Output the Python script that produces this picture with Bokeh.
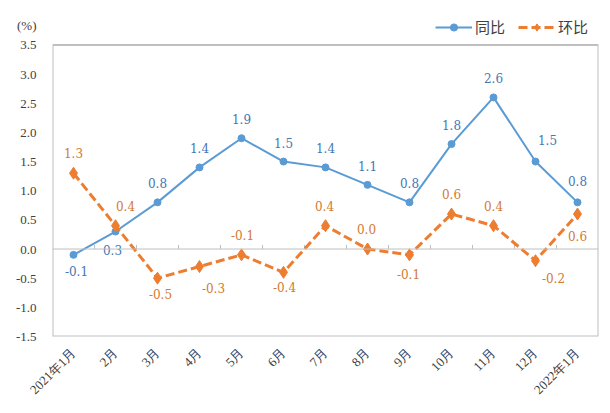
from bokeh.plotting import figure
from bokeh.models import (Range1d, FixedTicker, Span, Legend, LegendItem,
                          ColumnDataSource, CustomJSTickFormatter)
from bokeh.core.properties import value
from bokeh.embed import file_html
from bokeh.resources import INLINE
import math

# ---- data ----
months = ["2021年1月", "2月", "3月", "4月", "5月", "6月", "7月", "8月", "9月",
          "10月", "11月", "12月", "2022年1月"]
yoy = [-0.1, 0.3, 0.8, 1.4, 1.9, 1.5, 1.4, 1.1, 0.8, 1.8, 2.6, 1.5, 0.8]
mom = [1.3, 0.4, -0.5, -0.3, -0.1, -0.4, 0.4, 0.0, -0.1, 0.6, 0.4, -0.2, 0.6]
y_ticks = [-1.5, -1.0, -0.5, 0.0, 0.5, 1.0, 1.5, 2.0, 2.5, 3.0, 3.5]
unit_text = "(%)"

# ---- layout / styling ----
Y_MIN, Y_MAX = -1.5, 3.5
Y_TOP = 4.09          # frame extends above the plot box to host legend & unit
UNIT_POS = 3.84       # height of the "(%)" unit label
yoy_dx = [3, -3, 0, 0, 0, 0, 0, 0, 0, 0, 0, 12, 0]
yoy_dy = [16, 18, -19, -19, -19, -19, -19, -19, -19, -19, -19, -22, -21]
mom_dx = [0, 10, 3, 14, 1, 1, -1, -1, -1, 0, 0, 18, 0]
mom_dy = [-20, -20, 16, 21, -20, 15, -20, -20, 19, -20, -20, 17, 22]

BLUE = "#5B9BD5"
ORANGE = "#ED7D31"
BLUE_T = "#4677B0"
ORANGE_T = "#D27A32"
GRAY = "#BFBFBF"
SERIF = "Liberation Serif"

n = len(months)
xs = [i + 0.5 for i in range(n)]          # category centres
xb = [i + 1.0 for i in range(n - 1)]      # category boundaries

src = ColumnDataSource(dict(
    x=xs, yoy=yoy, mom=mom,
    yoy_t=["%.1f" % v for v in yoy], mom_t=["%.1f" % v for v in mom],
    yoy_dx=yoy_dx, yoy_dy=yoy_dy, mom_dx=mom_dx, mom_dy=mom_dy,
))
bsrc = ColumnDataSource(dict(x=xb, y0=[0.0] * len(xb), y1=[0.07] * len(xb)))

p = figure(width=602, height=405, x_range=Range1d(0, n), y_range=Range1d(Y_MIN, Y_TOP),
           output_backend="svg", toolbar_location=None,
           min_border_left=52, min_border_right=4, min_border_top=10,
           min_border_bottom=65)
p.grid.visible = False
p.outline_line_color = None

# plot box (edges on the frame boundary; width 2 so 1px remains after clipping)
p.quad(left=[0], right=[n], bottom=[Y_MIN], top=[Y_MAX],
       fill_color=None, line_color=GRAY, line_width=2)

# y axis (with unit label as an extra top tick label)
ya = p.yaxis[0]
ya.ticker = FixedTicker(ticks=y_ticks + [UNIT_POS])
ya.formatter = CustomJSTickFormatter(
    args=dict(unit=unit_text, ymax=Y_MAX),
    code="return tick > ymax + 1e-6 ? unit : tick.toFixed(1);")
ya.axis_line_color = None
ya.major_tick_line_color = None
ya.minor_tick_line_color = None
ya.major_label_standoff = 10
ya.major_label_text_font = SERIF
ya.major_label_text_font_size = "13px"
ya.major_label_text_color = "#404040"

# x axis (category labels at bottom)
xa = p.xaxis[0]
xa.ticker = FixedTicker(ticks=xs)
xa.formatter = CustomJSTickFormatter(args=dict(labels=months),
                                     code="return labels[Math.floor(tick)];")
xa.axis_line_color = None
xa.major_tick_line_color = None
xa.minor_tick_line_color = None
xa.major_label_orientation = math.pi / 4
xa.major_label_standoff = 8
xa.major_label_text_font = SERIF
xa.major_label_text_font_size = "13px"
xa.major_label_text_color = "#404040"

# zero line with category boundary ticks
p.add_layout(Span(location=0, dimension="width", line_color=GRAY, line_width=1))
p.segment(x0="x", y0="y0", x1="x", y1="y1", source=bsrc, line_color=GRAY, line_width=1)

# series
l1 = p.line("x", "yoy", source=src, line_color=BLUE, line_width=2)
s1 = p.scatter("x", "yoy", source=src, marker="circle", size=7,
               fill_color=BLUE, line_color=BLUE)
l2 = p.line("x", "mom", source=src, line_color=ORANGE, line_width=3,
            line_dash="9 4")
s2 = p.scatter("x", "mom", source=src, marker="diamond", size=12,
               fill_color=ORANGE, line_color=ORANGE)

# data labels
p.text(x="x", y="yoy", text="yoy_t", source=src, x_offset="yoy_dx", y_offset="yoy_dy",
       text_align="center", text_baseline="middle", text_color=BLUE_T,
       text_font=value("DejaVu Serif"), text_font_size="12px")
p.text(x="x", y="mom", text="mom_t", source=src, x_offset="mom_dx", y_offset="mom_dy",
       text_align="center", text_baseline="middle", text_color=ORANGE_T,
       text_font=value("DejaVu Serif"), text_font_size="12px")

# legend (inside the frame, above the plot box)
legend = Legend(items=[LegendItem(label="同比", renderers=[l1, s1]),
                       LegendItem(label="环比", renderers=[l2, s2])],
                orientation="horizontal", location=(383, 299),
                glyph_width=37, glyph_height=18, label_standoff=3,
                spacing=13, padding=0, margin=0,
                border_line_color=None, background_fill_alpha=0,
                label_text_font="Noto Sans CJK SC", label_text_font_size="15px",
                label_text_color="#404040")
p.add_layout(legend)

open("out.html", "w").write(file_html(p, INLINE))
